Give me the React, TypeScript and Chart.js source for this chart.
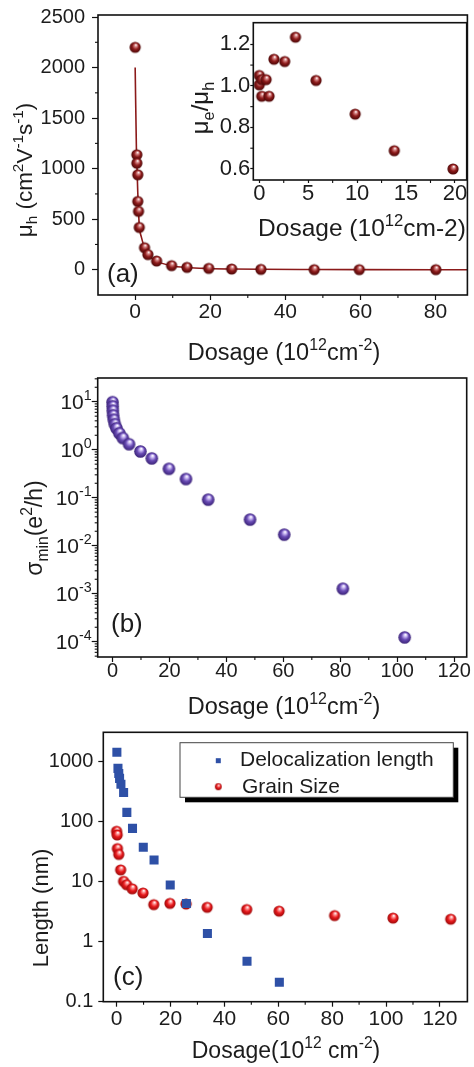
import React, { useEffect, useRef } from 'react';
import { Chart, registerables } from 'chart.js';
Chart.register(...registerables);

const FONT = "'Liberation Sans', Arial, Helvetica, sans-serif";
const TXT = '#1c1c1c';

// ---------- Panel (a): hole mobility vs dosage ----------
const aDose = [0, 0.45, 0.45, 0.7, 0.7, 0.9, 1.1, 2.5, 3.4, 5.7, 9.7, 13.8, 19.6, 25.7, 33.5, 47.7, 59.7, 80.1];
const aMobility = [2200, 1137, 1054, 939, 675, 577, 418, 218, 150, 86, 40, 23, 13, 7, 3, 1, 1, 0.5];
const aFitDose = [0, 0.35, 0.5, 0.7, 0.9, 1.1, 1.6, 2.5, 3.4, 5.7, 9.7, 13.8, 19.6, 25.7, 33.5, 47.7, 59.7, 80.1, 88.5];
const aFitMobility = [2000, 1150, 1000, 760, 580, 430, 330, 220, 150, 85, 40, 22, 12, 7, 4, 2, 1, 0.5, 0.3];
const aXTicks = [0, 20, 40, 60, 80];
const aXMinor = [10, 30, 50, 70];
const aYTicks = [0, 500, 1000, 1500, 2000, 2500];
const aYMinor = [250, 750, 1250, 1750, 2250];

// ---------- Inset: mu_e / mu_h ----------
const insetDose = [0, 0, 0.25, 0.7, 0.25, 1.0, 1.5, 2.6, 3.7, 5.8, 9.8, 13.8, 19.8];
const insetRatio = [1.05, 1.005, 1.03, 1.03, 0.95, 0.95, 1.128, 1.117, 1.234, 1.026, 0.864, 0.688, 0.6];
const insetXTicks = [0, 5, 10, 15, 20];
const insetXMinor = [2.5, 7.5, 12.5, 17.5];
const insetYTicks = [0.6, 0.8, 1.0, 1.2];
const insetYMinor = [0.7, 0.9, 1.1];

// ---------- Panel (b): sigma_min ----------
const bDose = [0, 0.05, 0.1, 0.2, 0.45, 0.8, 1.4, 2.4, 3.6, 5.8, 9.8, 13.8, 19.8, 25.8, 33.6, 48.3, 60.3, 80.9, 102.6];
const bSigma = [9.8, 8.0, 6.5, 5.2, 4.2, 3.4, 2.8, 2.2, 1.75, 1.3, 0.92, 0.66, 0.4, 0.245, 0.091, 0.035, 0.017, 0.00127, 0.000123];
const bXTicks = [0, 20, 40, 60, 80, 100, 120];
const bXMinor = [10, 30, 50, 70, 90, 110];
const bYExponents = [-4, -3, -2, -1, 0, 1];

// ---------- Panel (c): lengths ----------
const seriesNames = ['Delocalization length', 'Grain Size'];
const cDelocDose = [0.1, 0.5, 0.8, 1.1, 1.6, 2.6, 3.8, 5.9, 9.9, 13.9, 19.9, 25.9, 33.7, 48.4, 60.4];
const cDeloc = [1400, 755, 620, 515, 410, 300, 140, 76, 37, 22.6, 8.7, 4.3, 1.36, 0.47, 0.21];
const cGrainDose = [0, 0.2, 0.3, 0.8, 1.5, 2.6, 3.7, 5.8, 9.8, 13.8, 19.8, 25.8, 33.6, 48.3, 60.3, 80.9, 102.6, 124];
const cGrain = [68, 59, 35, 28, 15.5, 10, 8.8, 7.5, 6.4, 4.1, 4.3, 4.2, 3.7, 3.4, 3.2, 2.7, 2.45, 2.35];
const cXTicks = [0, 20, 40, 60, 80, 100, 120];
const cXMinor = [10, 30, 50, 70, 90, 110];
const cYTicks = [0.1, 1, 10, 100, 1000];

// ---------- helpers ----------
type Seg = { t: string; s?: 'sup' | 'sub' };
type TextItem = { segs: Seg[]; x: number; y: number; size: number; align?: 'left' | 'center' | 'right'; rot?: boolean };

function segFont(size: number, s?: string) {
  return `${s ? size * 0.68 : size}px ${FONT}`;
}

function drawRich(ctx: CanvasRenderingContext2D, it: TextItem, ox: number, oy: number) {
  ctx.save();
  ctx.fillStyle = TXT;
  ctx.textBaseline = 'alphabetic';
  ctx.textAlign = 'left';
  const widths: number[] = [];
  let total = 0;
  for (const sg of it.segs) {
    ctx.font = segFont(it.size, sg.s);
    const w = ctx.measureText(sg.t).width;
    widths.push(w);
    total += w;
  }
  ctx.translate(it.x - ox, it.y - oy);
  if (it.rot) ctx.rotate(-Math.PI / 2);
  let x0 = it.align === 'left' ? 0 : it.align === 'right' ? -total : -total / 2;
  it.segs.forEach((sg, i) => {
    ctx.font = segFont(it.size, sg.s);
    const dy = sg.s === 'sup' ? -it.size * 0.42 : sg.s === 'sub' ? it.size * 0.24 : 0;
    ctx.fillText(sg.t, x0, dy);
    x0 += widths[i];
  });
  ctx.restore();
}

function sphere(r: number, base: string, dark: string, light: string) {
  const d = Math.ceil(r * 2 + 2);
  const c = document.createElement('canvas');
  c.width = d;
  c.height = d;
  const g = c.getContext('2d')!;
  const cx = d / 2;
  const cy = d / 2;
  const grad = g.createRadialGradient(cx + r * 0.15, cy - r * 0.45, r * 0.05, cx, cy, r);
  grad.addColorStop(0, '#ffffff');
  grad.addColorStop(0.2, light);
  grad.addColorStop(0.55, base);
  grad.addColorStop(1, dark);
  g.fillStyle = grad;
  g.beginPath();
  g.arc(cx, cy, r, 0, Math.PI * 2);
  g.fill();
  return c;
}

type LegendCfg = {
  box: [number, number, number, number];
  items: { label: string; kind: 'rect' | 'ball'; mx: number; my: number; tx: number; ty: number }[];
};

type DecorCfg = {
  ox: number;
  oy: number;
  minorX?: number[];
  minorY?: number[];
  texts?: TextItem[];
  fill?: boolean;
  powY?: { exps: number[]; right: number; size: number };
  legend?: LegendCfg;
};

function makeDecor(cfg: DecorCfg) {
  return {
    id: 'decor',
    beforeDraw(chart: any) {
      if (!cfg.fill) return;
      const ca = chart.chartArea;
      const ctx = chart.ctx;
      ctx.save();
      ctx.fillStyle = '#fff';
      ctx.fillRect(ca.left, ca.top, ca.right - ca.left, ca.bottom - ca.top);
      ctx.restore();
    },
    afterDraw(chart: any) {
      const ctx: CanvasRenderingContext2D = chart.ctx;
      const ca = chart.chartArea;
      const xs = chart.scales.x;
      const ys = chart.scales.y;
      ctx.save();
      ctx.strokeStyle = '#111';
      ctx.lineWidth = 1.6;
      ctx.strokeRect(ca.left, ca.top, ca.right - ca.left, ca.bottom - ca.top);
      ctx.lineWidth = 1.1;
      (cfg.minorX || []).forEach((v) => {
        const px = xs.getPixelForValue(v);
        ctx.beginPath();
        ctx.moveTo(px, ca.bottom);
        ctx.lineTo(px, ca.bottom + 3);
        ctx.stroke();
      });
      (cfg.minorY || []).forEach((v) => {
        const py = ys.getPixelForValue(v);
        ctx.beginPath();
        ctx.moveTo(ca.left, py);
        ctx.lineTo(ca.left - 3, py);
        ctx.stroke();
      });
      if (cfg.powY) {
        const p = cfg.powY;
        p.exps.forEach((e) => {
          const py = ys.getPixelForValue(Math.pow(10, e)) + cfg.oy;
          drawRich(
            ctx,
            { segs: [{ t: '10' }, { t: String(e), s: 'sup' }], x: p.right, y: py + p.size * 0.36, size: p.size, align: 'right' },
            cfg.ox,
            cfg.oy
          );
        });
      }
      (cfg.texts || []).forEach((t) => drawRich(ctx, t, cfg.ox, cfg.oy));
      if (cfg.legend) {
        const L = cfg.legend;
        const [x1, y1, x2, y2] = L.box;
        ctx.fillStyle = '#000';
        ctx.fillRect(x1 - cfg.ox + 5, y1 - cfg.oy + 5, x2 - x1, y2 - y1);
        ctx.fillStyle = '#fff';
        ctx.fillRect(x1 - cfg.ox, y1 - cfg.oy, x2 - x1, y2 - y1);
        ctx.strokeStyle = '#444';
        ctx.lineWidth = 1;
        ctx.strokeRect(x1 - cfg.ox, y1 - cfg.oy, x2 - x1, y2 - y1);
        L.items.forEach((it) => {
          if (it.kind === 'rect') {
            ctx.fillStyle = '#2e50a6';
            ctx.fillRect(it.mx - cfg.ox - 2.5, it.my - cfg.oy - 2.5, 5, 5);
          } else {
            const s = sphere(3.4, '#e8191c', '#9a0a0a', '#ff9a9a');
            ctx.drawImage(s, it.mx - cfg.ox - s.width / 2, it.my - cfg.oy - s.height / 2);
          }
          drawRich(ctx, { segs: [{ t: it.label }], x: it.tx, y: it.ty, size: 21, align: 'left' }, cfg.ox, cfg.oy);
        });
      }
      ctx.restore();
    },
  };
}

function axisX(min: number, max: number, ticks: number[], bottomH: number, tl: number, pad: number, size = 20) {
  return {
    type: 'linear',
    min,
    max,
    afterBuildTicks: (s: any) => {
      s.ticks = ticks.map((v) => ({ value: v }));
    },
    afterFit: (s: any) => {
      s.height = bottomH;
      s.paddingLeft = 0;
      s.paddingRight = 0;
    },
    ticks: {
      font: { family: FONT, size },
      color: TXT,
      padding: pad,
      maxRotation: 0,
      minRotation: 0,
      autoSkip: false,
      callback: (v: any) => String(v),
    },
    grid: { display: true, drawOnChartArea: false, drawTicks: true, tickLength: tl, tickColor: '#111', tickWidth: 1.2 },
    border: { display: false },
  };
}

function axisY(
  type: string,
  min: number,
  max: number,
  ticks: number[],
  leftW: number,
  tl: number,
  pad: number,
  fmt: (v: number) => string,
  show = true,
  size = 20
) {
  return {
    type,
    min,
    max,
    afterBuildTicks: (s: any) => {
      s.ticks = ticks.map((v) => ({ value: v }));
    },
    afterFit: (s: any) => {
      s.width = leftW;
      s.paddingTop = 0;
      s.paddingBottom = 0;
    },
    ticks: {
      display: show,
      font: { family: FONT, size },
      color: TXT,
      padding: pad,
      autoSkip: false,
      callback: (v: any) => fmt(Number(v)),
    },
    grid: { display: true, drawOnChartArea: false, drawTicks: true, tickLength: tl, tickColor: '#111', tickWidth: 1.2 },
    border: { display: false },
  };
}

function pts(xs: number[], ys: number[]) {
  return xs.map((x, i) => ({ x, y: ys[i] }));
}

const dosageSegs: Seg[] = [{ t: 'Dosage (10' }, { t: '12', s: 'sup' }, { t: 'cm' }, { t: '-2', s: 'sup' }, { t: ')' }];

// ---------- chart builders ----------
function buildA() {
  const ox = 0, oy = 0;
  const ball = sphere(5.6, '#8e1b1b', '#4a0707', '#d98a8a');
  return {
    type: 'scatter',
    data: {
      datasets: [
        {
          type: 'line',
          data: pts(aFitDose, aFitMobility),
          borderColor: '#8b1a1a',
          borderWidth: 1.6,
          pointRadius: 0,
          cubicInterpolationMode: 'monotone',
          order: 2,
        },
        {
          data: pts(aDose, aMobility),
          pointStyle: ball,
          pointRadius: 5.6,
          showLine: false,
          order: 1,
        },
      ],
    },
    options: {
      responsive: false,
      animation: false,
      layout: { padding: { top: 15, right: 4, left: 0, bottom: 0 } },
      plugins: { legend: { display: false }, tooltip: { enabled: false } },
      scales: {
        x: axisX(-9.9, 88.5, aXTicks, 73, 5, 0, 21),
        y: axisY('linear', -250, 2520, aYTicks, 98, 6, 7, (v) => String(v)),
      },
    },
    plugins: [
      makeDecor({
        ox,
        oy,
        minorX: aXMinor,
        minorY: aYMinor,
        texts: [
          {
            segs: [
              { t: 'μ' }, { t: 'h', s: 'sub' }, { t: ' (cm' }, { t: '2', s: 'sup' }, { t: 'V' }, { t: '-1', s: 'sup' },
              { t: 's' }, { t: '-1', s: 'sup' }, { t: ')' },
            ],
            x: 32, y: 170, size: 22.5, rot: true,
          },
          { segs: dosageSegs, x: 284, y: 360, size: 23.5 },
          { segs: [{ t: '(a)' }], x: 107, y: 282, size: 26, align: 'left' },
        ],
      }),
    ],
  };
}

function buildInset() {
  const ox = 180, oy = 10;
  const ball = sphere(5.6, '#8e1b1b', '#4a0707', '#d98a8a');
  return {
    type: 'scatter',
    data: {
      datasets: [{ data: pts(insetDose, insetRatio), pointStyle: ball, pointRadius: 5.6, showLine: false }],
    },
    options: {
      responsive: false,
      animation: false,
      layout: { padding: { top: 12.7, right: 7.3, left: 0, bottom: 0 } },
      plugins: { legend: { display: false }, tooltip: { enabled: false } },
      scales: {
        x: axisX(-0.61, 21.2, insetXTicks, 70, 3, -2, 22),
        y: axisY('linear', 0.547, 1.304, insetYTicks, 73.3, 3, 0, (v) => v.toFixed(1), true, 22),
      },
    },
    plugins: [
      makeDecor({
        ox,
        oy,
        fill: true,
        minorX: insetXMinor,
        minorY: insetYMinor,
        texts: [
          { segs: [{ t: 'μ' }, { t: 'e', s: 'sub' }, { t: '/μ' }, { t: 'h', s: 'sub' }], x: 208, y: 108, size: 24, rot: true },
          { segs: [{ t: 'Dosage (10' }, { t: '12', s: 'sup' }, { t: 'cm-2)' }], x: 362, y: 236, size: 24.5 },
        ],
      }),
    ],
  };
}

function buildB() {
  const ox = 0, oy = 368;
  const ball = sphere(6.3, '#6a4cb5', '#3a2277', '#cdbdf5');
  const minor: number[] = [];
  for (let e = -5; e <= 1; e++) for (let k = 2; k <= 9; k++) minor.push(k * Math.pow(10, e));
  return {
    type: 'scatter',
    data: { datasets: [{ data: pts(bDose, bSigma), pointStyle: ball, pointRadius: 6.3, showLine: false }] },
    options: {
      responsive: false,
      animation: false,
      layout: { padding: { top: 10, right: 3.3, left: 0, bottom: 0 } },
      plugins: { legend: { display: false }, tooltip: { enabled: false } },
      scales: {
        x: axisX(-5.2, 124.4, bXTicks, 63, 5, -3),
        y: axisY('logarithmic', 4.8e-5, 31.2, bYExponents.map((e) => Math.pow(10, e)), 97.7, 6, 6, () => '', false),
      },
    },
    plugins: [
      makeDecor({
        ox,
        oy,
        minorX: bXMinor,
        minorY: minor.filter((v) => v > 4.8e-5 && v < 31.2),
        powY: { exps: bYExponents, right: 91.7, size: 21 },
        texts: [
          { segs: [{ t: 'σ' }, { t: 'min', s: 'sub' }, { t: '(e' }, { t: '2', s: 'sup' }, { t: '/h)' }], x: 42, y: 528, size: 23, rot: true },
          { segs: dosageSegs, x: 284, y: 714, size: 23.5 },
          { segs: [{ t: '(b)' }], x: 111, y: 632, size: 26, align: 'left' },
        ],
      }),
    ],
  };
}

function buildC() {
  const ox = 0, oy = 720;
  const ball = sphere(5.6, '#e8191c', '#9a0a0a', '#ff9a9a');
  return {
    type: 'scatter',
    data: {
      datasets: [
        {
          label: seriesNames[0],
          data: pts(cDelocDose, cDeloc),
          pointStyle: 'rect',
          pointRadius: 6.4,
          backgroundColor: '#2e50a6',
          borderWidth: 0,
          showLine: false,
        },
        { label: seriesNames[1], data: pts(cGrainDose, cGrain), pointStyle: ball, pointRadius: 5.6, showLine: false },
      ],
    },
    options: {
      responsive: false,
      animation: false,
      layout: { padding: { top: 12.3, right: 4, left: 0, bottom: 0 } },
      plugins: { legend: { display: false }, tooltip: { enabled: false } },
      scales: {
        x: axisX(-4.94, 130.2, cXTicks, 65.3, 5, 0, 21),
        y: axisY('logarithmic', 0.1, 3000, cYTicks, 103.3, 5, 5, (v) => (v < 1 ? v.toFixed(1) : String(Math.round(v)))),
      },
    },
    plugins: [
      makeDecor({
        ox,
        oy,
        minorX: cXMinor,
        texts: [
          { segs: [{ t: 'Length (nm)' }], x: 48, y: 908, size: 22, rot: true },
          { segs: [{ t: 'Dosage(10' }, { t: '12', s: 'sup' }, { t: ' cm' }, { t: '-2', s: 'sup' }, { t: ')' }], x: 286, y: 1058, size: 23 },
          { segs: [{ t: '(c)' }], x: 113, y: 985, size: 26, align: 'left' },
        ],
        legend: {
          box: [180, 742.7, 453.3, 797.3],
          items: [
            { label: seriesNames[0], kind: 'rect', mx: 218.3, my: 760.7, tx: 240, ty: 766 },
            { label: seriesNames[1], kind: 'ball', mx: 218.3, my: 786.7, tx: 242, ty: 793 },
          ],
        },
      }),
    ],
  };
}

function Panel(props: { left: number; top: number; width: number; height: number; build: () => any }) {
  const ref = useRef<HTMLCanvasElement>(null);
  useEffect(() => {
    const chart = new Chart(ref.current as HTMLCanvasElement, props.build());
    return () => chart.destroy();
  }, []);
  return (
    <canvas
      ref={ref}
      width={props.width}
      height={props.height}
      style={{ position: 'absolute', left: props.left, top: props.top, width: props.width, height: props.height }}
    />
  );
}

export default function App() {
  return (
    <div style={{ position: 'absolute', left: 0, top: 0, width: 474, height: 1067, background: '#fff', overflow: 'hidden' }}>
      <Panel left={0} top={0} width={474} height={368} build={buildA} />
      <Panel left={180} top={10} width={294} height={240} build={buildInset} />
      <Panel left={0} top={368} width={474} height={352} build={buildB} />
      <Panel left={0} top={720} width={474} height={347} build={buildC} />
    </div>
  );
}
